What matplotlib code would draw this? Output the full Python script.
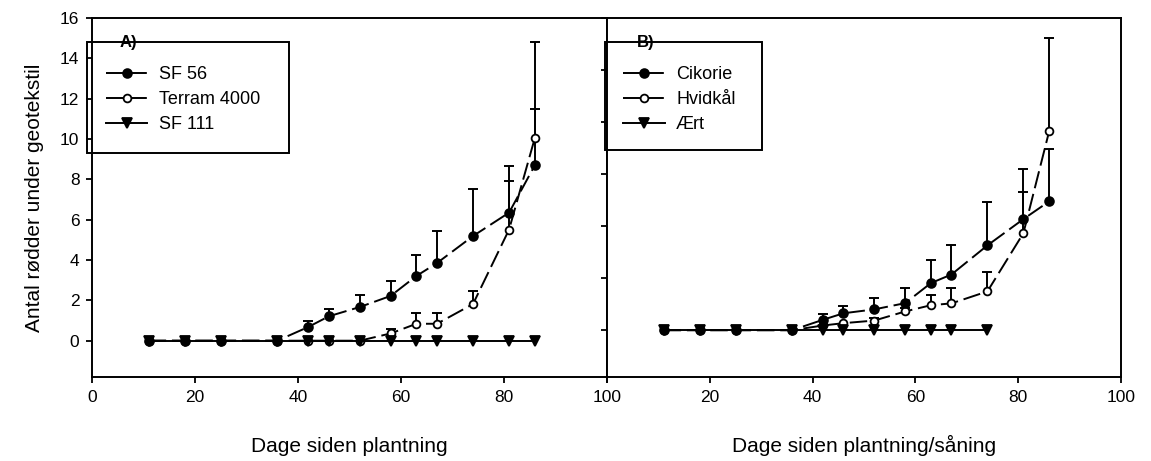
import matplotlib

matplotlib.use("Agg")
import matplotlib.pyplot as plt
from matplotlib.patches import Rectangle

plt.rcParams["font.family"] = ["Liberation Sans", "DejaVu Sans"]

# panel A: geotextile types
days = [11, 18, 25, 36, 42, 46, 52, 58, 63, 67, 74, 81, 86]
sf56 = [0, 0, 0, 0, 0.68, 1.21, 1.67, 2.22, 3.21, 3.85, 5.19, 6.35, 8.70]
sf56_err = [0, 0, 0, 0, 0.29, 0.34, 0.61, 0.74, 1.06, 1.61, 2.34, 2.30, 2.80]
terram = [0, 0, 0, 0, 0, 0, 0, 0.36, 0.84, 0.84, 1.82, 5.51, 10.05]
terram_err = [0, 0, 0, 0, 0, 0, 0, 0.20, 0.53, 0.53, 0.66, 2.42, 4.75]
sf111 = [0, 0, 0, 0, 0, 0, 0, 0, 0, 0, 0, 0, 0]

# panel B: crops
cikorie = [0, 0, 0, 0, 0.40, 0.65, 0.80, 1.04, 1.81, 2.14, 3.26, 4.27, 4.95]
cikorie_err = [0, 0, 0, 0, 0.22, 0.29, 0.43, 0.58, 0.89, 1.14, 1.65, 1.94, 2.00]
hvidkaal = [0, 0, 0, 0, 0.18, 0.27, 0.37, 0.72, 0.96, 1.03, 1.49, 3.73, 7.64]
hvidkaal_err = [0, 0, 0, 0, 0, 0, 0.10, 0.15, 0.41, 0.59, 0.73, 1.58, 3.61]
aert_days = [11, 18, 25, 36, 42, 46, 52, 58, 63, 67, 74]
aert = [0, 0, 0, 0, 0, 0, 0, 0, 0, 0, 0]

DASH = (9, 3)
LW = 1.4


def _series(ax, x, y, err, marker, face, label, dashed, z, ms):
    line, = ax.plot(x, y, color="black", lw=LW, marker=marker, ms=ms,
                    mfc=face, mec="black", mew=1.3, label=label, zorder=z)
    if dashed:
        line.set_dashes(DASH)
    if err is not None:
        xs = [a for a, e in zip(x, err) if e > 0]
        lo = [b for b, e in zip(y, err) if e > 0]
        hi = [b + e for b, e in zip(y, err) if e > 0]
        ax.vlines(xs, lo, hi, color="black", lw=1.4, zorder=2)
        ax.plot(xs, hi, ls="none", marker="_", ms=7, mew=1.4, color="black", zorder=2)
    return line


def _style(ax, top):
    ax.set_xlim(0, 100)
    ax.set_ylim(-1.8, top)
    ax.set_xticks(range(0, 101, 20))
    ax.set_yticks(range(0, top + 1, 2))
    for s in ax.spines.values():
        s.set_linewidth(1.4)
    ax.tick_params(direction="out", length=4, width=1.3, labelsize=12.5, pad=5)


def _legend(ax, x_anchor, handles):
    ax.legend(handles=handles, loc="upper left", bbox_to_anchor=(x_anchor, 0.866),
              frameon=False, fontsize=13, borderpad=0, borderaxespad=0,
              handlelength=2.3, handletextpad=0.65, labelspacing=0.45)


def _legend_box(ax, x0, x1, y0, y1, tag, tag_x):
    ax.add_patch(Rectangle((x0, y0), x1 - x0, y1 - y0, transform=ax.transAxes,
                           fill=False, ec="black", lw=1.4, clip_on=False, zorder=5))
    ax.text(tag_x, y1, tag, transform=ax.transAxes, ha="center", va="center",
            fontsize=12, fontweight="bold", zorder=6)


def _xlabel(ax, text):
    ax.set_xlabel(text, fontsize=15, va="baseline")
    ax.xaxis.set_label_coords(0.5, -0.209)


fig = plt.figure(figsize=(11.51, 4.61), dpi=100)
ax_a = fig.add_axes([0.0799, 0.1822, 0.4474, 0.7787])
ax_b = fig.add_axes([0.5274, 0.1822, 0.4466, 0.7787])

t = _series(ax_a, days, terram, terram_err, "o", "white", "Terram 4000", True, 3, 5.6)
s = _series(ax_a, days, sf56, sf56_err, "o", "black", "SF 56", True, 3.5, 6.3)
u = _series(ax_a, days, sf111, None, "v", "black", "SF 111", False, 4, 7)
_style(ax_a, 16)
ax_a.set_ylabel("Antal rødder under geotekstil", fontsize=15)
ax_a.yaxis.set_label_coords(-0.093, 0.5)
_xlabel(ax_a, "Dage siden plantning")
_legend(ax_a, 0.027, [s, t, u])
_legend_box(ax_a, -0.0097, 0.3825, 0.624, 0.933, "A)", 0.0709)

t = _series(ax_b, days, hvidkaal, hvidkaal_err, "o", "white", "Hvidkål", True, 3, 5.6)
s = _series(ax_b, days, cikorie, cikorie_err, "o", "black", "Cikorie", True, 3.5, 6.3)
u = _series(ax_b, aert_days, aert, None, "v", "black", "Ært", False, 4, 7)
_style(ax_b, 12)
ax_b.set_yticklabels([])
ax_b.set_xticklabels(["", "20", "40", "60", "80", "100"])
_xlabel(ax_b, "Dage siden plantning/såning")
_legend(ax_b, 0.031, [s, t, u])
_legend_box(ax_b, -0.004, 0.3016, 0.632, 0.933, "B)", 0.0749)

fig.savefig("out.png", dpi=100)
